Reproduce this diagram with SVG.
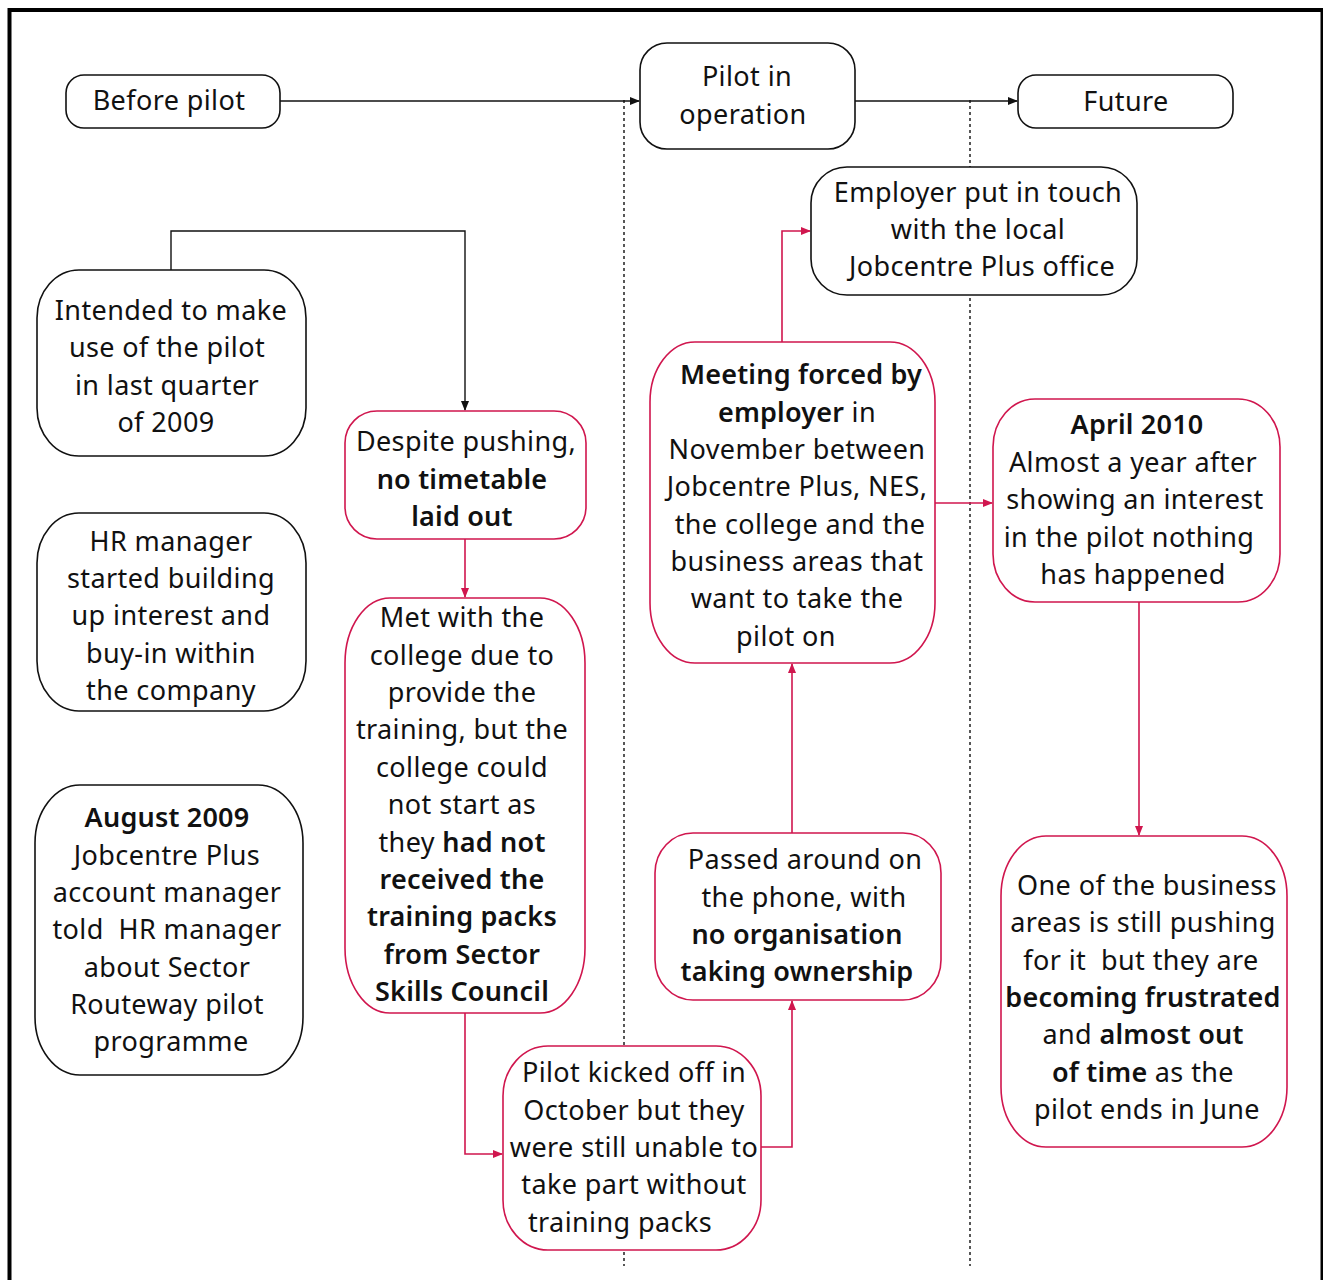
<svg xmlns="http://www.w3.org/2000/svg" width="1323" height="1280" viewBox="0 0 1323 1280">
<style>
.bk{fill:#fff;stroke:#111;stroke-width:1.6}
.rd{fill:#fff;stroke:#d0164e;stroke-width:1.6}
text{font-family:"Noto Sans","Open Sans",sans-serif;font-size:27px;letter-spacing:0.4px;fill:#111;text-anchor:middle}
.b{font-weight:600;letter-spacing:0.2px}
.cb{fill:none;stroke:#111;stroke-width:1.4}
.cr{fill:none;stroke:#d0164e;stroke-width:1.6}
.dot{stroke:#111;stroke-width:1.4;stroke-dasharray:3 3}
</style>
<defs>
<marker id="ab" markerWidth="10" markerHeight="8" refX="9" refY="4" orient="auto" markerUnits="userSpaceOnUse"><path d="M0,0 L10,4 L0,8 z" fill="#111"/></marker>
<marker id="ar" markerWidth="10" markerHeight="8" refX="9" refY="4" orient="auto" markerUnits="userSpaceOnUse"><path d="M0,0 L10,4 L0,8 z" fill="#d0164e"/></marker>
</defs>
<rect x="0" y="0" width="1323" height="1280" fill="#fff"/>
<rect x="9.5" y="10" width="1313" height="1300" fill="none" stroke="#000" stroke-width="4"/>
<line class="dot" x1="624" y1="100" x2="624" y2="1266"/>
<line class="dot" x1="970" y1="100" x2="970" y2="1266"/>

<g id="connectors">
<path class="cb" d="M280,101 H639" marker-end="url(#ab)"/>
<path class="cb" d="M855,101 H1017" marker-end="url(#ab)"/>
<path class="cb" d="M171,270 V231 H465 V410" marker-end="url(#ab)"/>
<path class="cr" d="M465,539 V597" marker-end="url(#ar)"/>
<path class="cr" d="M465,1013 V1154 H502" marker-end="url(#ar)"/>
<path class="cr" d="M761,1147 H792 V1001" marker-end="url(#ar)"/>
<path class="cr" d="M792,833 V664" marker-end="url(#ar)"/>
<path class="cr" d="M782,342 V231 H810" marker-end="url(#ar)"/>
<path class="cr" d="M935,503 H992" marker-end="url(#ar)"/>
<path class="cr" d="M1139,602 V835" marker-end="url(#ar)"/>
</g>

<g id="before">
<rect class="bk" x="66" y="75" width="214" height="53" rx="18" ry="18"/>
<text x="169" y="110">Before pilot</text>
</g>
<g id="pilot">
<rect class="bk" x="640" y="43" width="215" height="106" rx="27" ry="27"/>
<text x="747" y="86">Pilot in</text>
<text x="743" y="124">operation</text>
</g>
<g id="future">
<rect class="bk" x="1018" y="75" width="215" height="53" rx="18" ry="18"/>
<text x="1126" y="111">Future</text>
</g>
<g id="employer">
<rect class="bk" x="811" y="167" width="326" height="128" rx="36" ry="36"/>
<text x="978" y="202">Employer put in touch</text>
<text x="978" y="239">with the local</text>
<text x="982" y="276">Jobcentre Plus office</text>
</g>
<g id="intended">
<rect class="bk" x="37" y="270" width="269" height="186" rx="42" ry="48"/>
<text x="171" y="320">Intended to make</text>
<text x="167" y="357">use of the pilot</text>
<text x="167" y="395">in last quarter</text>
<text x="166" y="432">of 2009</text>
</g>
<g id="hr">
<rect class="bk" x="37" y="513" width="269" height="198" rx="42" ry="50"/>
<text x="171" y="551">HR manager</text>
<text x="171" y="588">started building</text>
<text x="171" y="625">up interest and</text>
<text x="171" y="663">buy-in within</text>
<text x="171" y="700">the company</text>
</g>
<g id="august">
<rect class="bk" x="35" y="785" width="268" height="290" rx="45" ry="58"/>
<text x="167" y="827" class="b">August 2009</text>
<text x="167" y="865">Jobcentre Plus</text>
<text x="167" y="902">account manager</text>
<text x="167" y="939" xml:space="preserve">told  HR manager</text>
<text x="167" y="977">about Sector</text>
<text x="167" y="1014">Routeway pilot</text>
<text x="171" y="1051">programme</text>
</g>
<g id="despite">
<rect class="rd" x="345" y="411" width="241" height="128" rx="32" ry="32"/>
<text x="466" y="451">Despite pushing,</text>
<text x="462" y="489" class="b">no timetable</text>
<text x="462" y="526" class="b">laid out</text>
</g>
<g id="met">
<rect class="rd" x="345" y="598" width="240" height="415" rx="45" ry="65"/>
<text x="462" y="627">Met with the</text>
<text x="462" y="665">college due to</text>
<text x="462" y="702">provide the</text>
<text x="462" y="739">training, but the</text>
<text x="462" y="777">college could</text>
<text x="462" y="814">not start as</text>
<text x="462" y="852">they <tspan class="b">had not</tspan></text>
<text x="462" y="889" class="b">received the</text>
<text x="462" y="926" class="b">training packs</text>
<text x="462" y="964" class="b">from Sector</text>
<text x="462" y="1001" class="b">Skills Council</text>
</g>
<g id="meeting">
<rect class="rd" x="650" y="342" width="285" height="321" rx="45" ry="60"/>
<text x="801" y="384" class="b">Meeting forced by</text>
<text x="797" y="422"><tspan class="b">employer</tspan> in</text>
<text x="797" y="459">November between</text>
<text x="797" y="496">Jobcentre Plus, NES,</text>
<text x="800" y="534">the college and the</text>
<text x="797" y="571">business areas that</text>
<text x="797" y="608">want to take the</text>
<text x="786" y="646">pilot on</text>
</g>
<g id="april">
<rect class="rd" x="993" y="399" width="287" height="203" rx="42" ry="48"/>
<text x="1137" y="434" class="b">April 2010</text>
<text x="1133" y="472">Almost a year after</text>
<text x="1135" y="509">showing an interest</text>
<text x="1129" y="547">in the pilot nothing</text>
<text x="1133" y="584">has happened</text>
</g>
<g id="passed">
<rect class="rd" x="655" y="833" width="286" height="167" rx="38" ry="40"/>
<text x="805" y="869">Passed around on</text>
<text x="804" y="907">the phone, with</text>
<text x="797" y="944" class="b">no organisation</text>
<text x="797" y="981" class="b">taking ownership</text>
</g>
<g id="kicked">
<rect class="rd" x="503" y="1046" width="258" height="204" rx="45" ry="50"/>
<text x="634" y="1082">Pilot kicked off in</text>
<text x="634" y="1120">October but they</text>
<text x="634" y="1157">were still unable to</text>
<text x="634" y="1194">take part without</text>
<text x="620" y="1232">training packs</text>
</g>
<g id="oneof">
<rect class="rd" x="1001" y="836" width="286" height="311" rx="45" ry="60"/>
<text x="1147" y="895">One of the business</text>
<text x="1143" y="932">areas is still pushing</text>
<text x="1141" y="970" xml:space="preserve">for it  but they are</text>
<text x="1143" y="1007" class="b">becoming frustrated</text>
<text x="1143" y="1044">and <tspan class="b">almost out</tspan></text>
<text x="1143" y="1082"><tspan class="b">of time</tspan> as the</text>
<text x="1147" y="1119">pilot ends in June</text>
</g>
</svg>
